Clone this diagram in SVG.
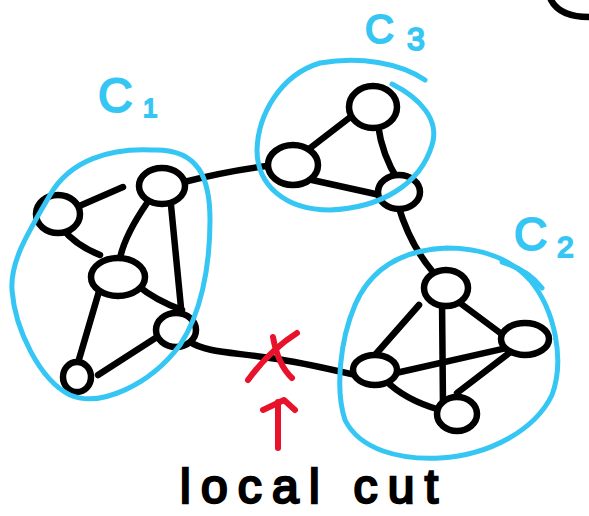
<svg xmlns="http://www.w3.org/2000/svg" width="589" height="516" viewBox="0 0 589 516">
<style>
.e{fill:none;stroke:#000;stroke-width:6.5;stroke-linecap:round;stroke-linejoin:round}
.n{fill:#fff;stroke:#000;stroke-width:6.5}
.b{fill:none;stroke:#35c6f4;stroke-width:5;stroke-linecap:round}
.r{fill:none;stroke:#e8132b;stroke-width:6;stroke-linecap:round;stroke-linejoin:round}
.lb{font-family:"Liberation Sans",Arial,sans-serif;fill:#35c6f4;stroke:#35c6f4;stroke-width:2}
.tx{font-family:"Liberation Sans",Arial,sans-serif;fill:#000;stroke:#000;stroke-width:2.5}
</style>
<rect width="589" height="516" fill="#fff"/>
<path class="e" d="M551 0 Q560 17 589 17"/>
<g id="connectors">
<path class="e" d="M77 207 L123 187"/>
<path class="e" d="M62 228 Q75 245 100 255"/>
<path class="e" d="M147 203 Q125 235 120 258"/>
<path class="e" d="M170 195 L182 318"/>
<path class="e" d="M137 285 Q155 300 182 310"/>
<path class="e" d="M100 288 L75 373"/>
<path class="e" d="M157 337 L98 375"/>
<path class="e" d="M180 183 Q230 170 275 165"/>
<path class="e" d="M190 342 C205 352 230 352 270 358 C300 362 325 368 355 375"/>
<path class="e" d="M398 205 Q410 245 433 272"/>
<path class="e" d="M353 115 L305 152"/>
<path class="e" d="M378 125 Q382 155 398 180"/>
<path class="e" d="M312 180 L380 195"/>
<path class="e" d="M419 305 L375 355"/>
<path class="e" d="M460 303 L507 338"/>
<path class="e" d="M442 300 L443 407"/>
<path class="e" d="M387 375 L520 345"/>
<path class="e" d="M385 380 Q405 400 440 410"/>
<path class="e" d="M513 350 L457 393"/>
</g>
<g id="nA"><ellipse class="n" cx="58" cy="214" rx="22" ry="19"/></g>
<g id="nB"><ellipse class="n" cx="162" cy="186" rx="23" ry="18"/></g>
<g id="nC"><ellipse class="n" cx="118" cy="277" rx="27" ry="19"/></g>
<g id="nD"><ellipse class="n" cx="176" cy="330" rx="20" ry="17"/></g>
<g id="nE"><ellipse class="n" cx="77" cy="377" rx="14" ry="15"/></g>
<g id="nF"><ellipse class="n" cx="373" cy="107" rx="24" ry="21"/></g>
<g id="nG"><ellipse class="n" cx="293" cy="165" rx="25" ry="20"/></g>
<g id="nH"><ellipse class="n" cx="399" cy="192" rx="21" ry="17"/></g>
<g id="nI"><ellipse class="n" cx="446" cy="288" rx="22" ry="18"/></g>
<g id="nJ"><ellipse class="n" cx="525" cy="339" rx="24" ry="16"/></g>
<g id="nK"><ellipse class="n" cx="375" cy="370" rx="22" ry="15"/></g>
<g id="nL"><ellipse class="n" cx="457" cy="414" rx="20" ry="17"/></g>
<g id="C1">
<path class="b" d="M152 150 C110 148 70 160 50 195 C30 230 10 260 12 290 C15 330 40 380 70 395 C100 408 150 385 180 345 C200 315 210 270 210 220 C210 180 200 148 152 150 Z"/>
<text class="lb" x="98" y="112" font-size="48">C<tspan x="143" y="117" font-size="26">1</tspan></text>
</g>
<g id="C3">
<path class="b" d="M392 84 C420 98 440 120 432 145 C420 185 380 208 330 210 C285 210 257 185 257 150 C258 115 280 75 320 63 C360 56 400 63 425 80"/>
<text class="lb" x="365" y="43" font-size="40">C<tspan x="407" y="50" font-size="32">3</tspan></text>
</g>
<g id="C2">
<path class="b" d="M447 248 C400 250 370 270 355 305 C340 340 335 390 345 420 C360 450 400 460 440 458 C490 455 535 430 552 395 C565 360 555 310 530 280 C510 258 480 248 447 248 Z"/>
<path class="b" d="M502 262 Q528 270 542 288"/>
<text class="lb" x="514" y="250" font-size="46">C<tspan x="557" y="257" font-size="30">2</tspan></text>
</g>
<g id="cut">
<path class="r" d="M248 380 Q270 350 297 333"/>
<path class="r" d="M273 337 Q278 365 292 378"/>
<path class="r" d="M278 448 L278 402"/>
<path class="r" d="M263 410 L284 400 L295 410"/>
<text class="tx" x="180" y="503" font-size="48" textLength="258" lengthAdjust="spacing">local cut</text>
</g>
</svg>
